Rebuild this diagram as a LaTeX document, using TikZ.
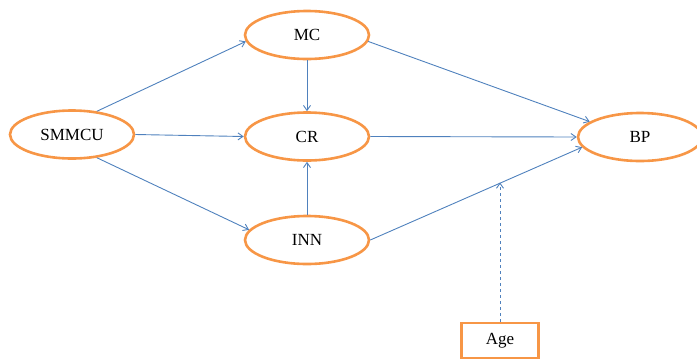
\documentclass[tikz,border=0pt]{standalone}
\usepackage{fontspec}
\setmainfont{Liberation Serif}
\usetikzlibrary{shapes.geometric,arrows.meta}
\definecolor{ora}{HTML}{F79646}
\definecolor{blu}{HTML}{4F81BD}
\tikzset{
  var/.style={ellipse,draw=ora,line width=2.6pt,minimum width=124pt,minimum height=48pt,inner sep=0pt,font=\fontsize{17}{19}\selectfont},
  ctrl/.style={rectangle,draw=ora,line width=2.6pt,minimum width=77pt,minimum height=35pt,inner sep=0pt,font=\fontsize{17}{19}\selectfont},
  conn/.style={draw=blu,line width=0.9pt,-{Straight Barb[length=5pt,width=7pt]}},
}
\begin{document}
\begin{tikzpicture}[x=1pt,y=-1pt]
\useasboundingbox (0,0) rectangle (697,360);
\node[var] (smmcu) at (72,134.5) {SMMCU};
\node[var] (mc) at (307,35) {MC};
\node[var] (cr) at (307,136.5) {CR};
\node[var] (inn) at (307,240) {INN};
\node[var] (bp) at (640,137) {BP};
\node[ctrl] (age) at (500,340.5) {Age};
\draw[conn] (smmcu.43) -- (mc.186);
\draw[conn] (smmcu.east) -- (cr.west);
\draw[conn] (smmcu.-43) -- (inn.170);
\draw[conn] (mc.south) -- (cr.north);
\draw[conn] (inn.north) -- (cr.south);
\draw[conn] (mc.-6) -- (bp.163);
\draw[conn] (cr.east) -- (bp.west);
\draw[conn] (inn.east) -- (bp.190) coordinate[pos=0.62] (m);
\draw[conn,dashed] (age.north) -- (age.north |- m);
\end{tikzpicture}
\end{document}
